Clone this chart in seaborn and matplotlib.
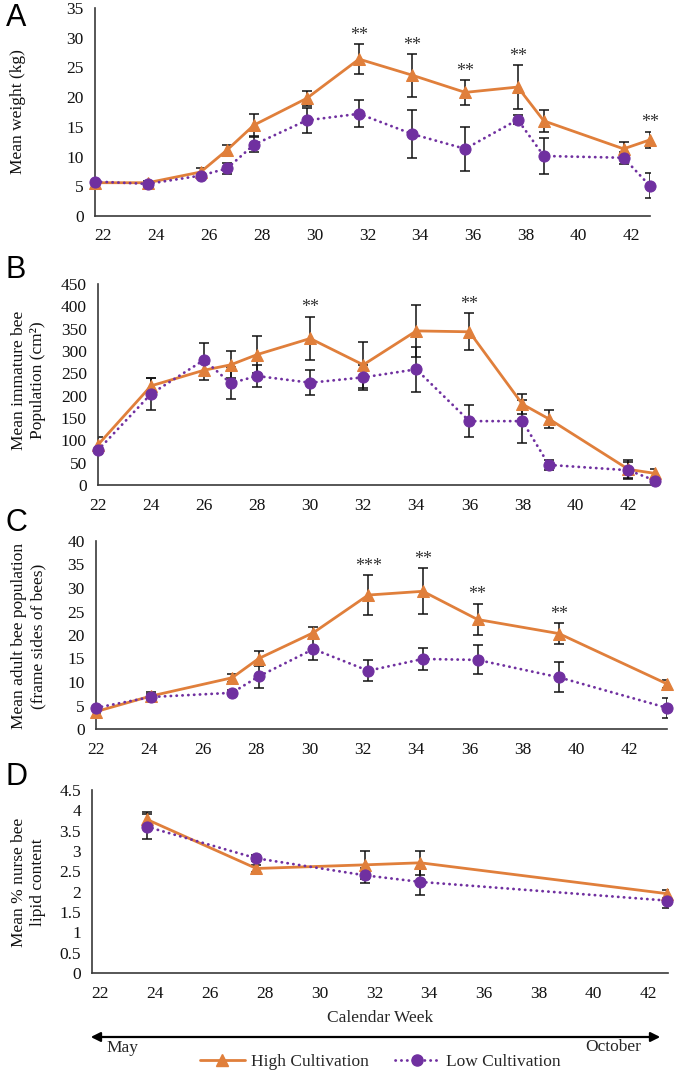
import numpy as np
import pandas as pd
import matplotlib
matplotlib.use('Agg')
import matplotlib.pyplot as plt
import seaborn as sns
from matplotlib.patches import FancyArrowPatch
from matplotlib.lines import Line2D

# ---------------- data ----------------
groups = ['High Cultivation', 'Low Cultivation']
x_ticks = [22, 24, 26, 28, 30, 32, 34, 36, 38, 40, 42]

# Panel A: mean weight (kg)
weeks_A = [21.68, 23.68, 25.68, 26.68, 27.7, 29.7, 31.68, 33.69, 35.7, 37.69, 38.68, 41.7, 42.69]
high_A = [5.6, 5.6, 7.4, 11.1, 15.3, 19.8, 26.4, 23.7, 20.8, 21.7, 16.0, 11.3, 12.8]
high_A_err = [0.3, 0.3, 0.7, 0.9, 1.8, 1.3, 2.5, 3.6, 2.1, 3.7, 1.9, 1.1, 1.4]
low_A = [5.8, 5.4, 6.8, 8.0, 12.0, 16.1, 17.2, 13.8, 11.3, 16.2, 10.1, 9.8, 5.1]
low_A_err = [0.3, 0.3, 0.4, 0.9, 1.3, 2.1, 2.3, 4.1, 3.7, 0.8, 3.0, 1.0, 2.1]
sig_A_idx = [6, 7, 8, 9, 12]
sig_A_lab = ['**', '**', '**', '**', '**']

# Panel B: immature bee population (cm2)
weeks_B = [22, 24, 26, 27, 28, 30, 32, 34, 36, 38, 39, 42, 43]
high_B = [90, 222, 257, 269, 292, 328, 269, 345, 343, 181, 148, 35, 26]
high_B_err = [18, 17, 22, 30, 42, 49, 52, 58, 41, 22, 20, 22, 10]
low_B = [78, 204, 280, 228, 244, 229, 241, 259, 143, 143, 45, 33, 10]
low_B_err = [8, 35, 37, 36, 25, 28, 28, 50, 36, 48, 12, 18, 5]
sig_B_idx = [5, 8]
sig_B_lab = ['**', '**']

# Panel C: adult bee population (frame sides of bees)
weeks_C = [22, 24.05, 27.1, 28.1, 30.15, 32.2, 34.25, 36.3, 39.35, 43.4]
high_C = [3.7, 7.0, 10.9, 15.0, 20.5, 28.5, 29.3, 23.3, 20.3, 9.6]
high_C_err = [0.4, 0.5, 0.9, 1.5, 1.3, 4.3, 4.9, 3.4, 2.3, 0.8]
low_C = [4.5, 6.8, 7.7, 11.2, 17.0, 12.4, 14.9, 14.7, 11.0, 4.5]
low_C_err = [0.4, 1.0, 0.5, 2.4, 2.4, 2.2, 2.4, 3.1, 3.2, 2.1]
sig_C_idx = [5, 6, 7, 8]
sig_C_lab = ['***', '**', '**', '**']

# Panel D: nurse bee lipid content (%)
weeks_D = [23.68, 27.69, 31.67, 33.67, 42.69]
high_D = [3.78, 2.57, 2.66, 2.71, 1.95]
high_D_err = [0.18, 0.08, 0.34, 0.30, 0.10]
low_D = [3.60, 2.82, 2.40, 2.24, 1.78]
low_D_err = [0.30, 0.07, 0.18, 0.33, 0.18]

ylabels = ['Mean weight (kg)',
           'Mean immature bee\nPopulation (cm\u00b2)',
           'Mean adult bee population\n(frame sides of bees)',
           'Mean % nurse bee\nlipid content']
letters = ['A', 'B', 'C', 'D']

# ---------------- style ----------------
sns.set_theme(style='white')
plt.rcParams['font.family'] = ['Liberation Serif', 'DejaVu Serif']

COL = {'High Cultivation': '#E07F3B', 'Low Cultivation': '#7030A0'}
MRK = {'High Cultivation': '^', 'Low Cultivation': 'o'}
DSH = {'High Cultivation': '', 'Low Cultivation': (0.1, 2.0)}

W, H = 677, 1072
fig = plt.figure(figsize=(W / 100, H / 100), dpi=100)


def rect(l, t, r, b):
    return [l / W, 1 - b / H, (r - l) / W, (b - t) / H]


def fmt_num(v):
    return ('%g' % v)


panels = [
    dict(box=(95, 8, 650, 216), weeks=weeks_A, hi=high_A, hie=high_A_err, lo=low_A, loe=low_A_err,
         ylim=(0, 35), yticks=np.arange(0, 35.1, 5), xlim=(21.68, 42.7), sig=(sig_A_idx, sig_A_lab),
         ylab_xy=(18, 112), letter_xy=(16, 18)),
    dict(box=(98, 284, 655, 485), weeks=weeks_B, hi=high_B, hie=high_B_err, lo=low_B, loe=low_B_err,
         ylim=(0, 450), yticks=np.arange(0, 451, 50), xlim=(22, 43), sig=(sig_B_idx, sig_B_lab),
         ylab_xy=(29, 380), letter_xy=(16, 270)),
    dict(box=(96, 541, 667, 729), weeks=weeks_C, hi=high_C, hie=high_C_err, lo=low_C, loe=low_C_err,
         ylim=(0, 40), yticks=np.arange(0, 40.1, 5), xlim=(22, 43.4), sig=(sig_C_idx, sig_C_lab),
         ylab_xy=(29, 636), letter_xy=(16, 523)),
    dict(box=(92, 790, 668, 973), weeks=weeks_D, hi=high_D, hie=high_D_err, lo=low_D, loe=low_D_err,
         ylim=(0, 4.5), yticks=np.arange(0, 4.51, 0.5), xlim=(21.69, 42.71), sig=([], []),
         ylab_xy=(29, 882), letter_xy=(16, 777)),
]

for i, p in enumerate(panels):
    ax = fig.add_axes(rect(*p['box']))
    df = pd.DataFrame({
        'week': list(p['weeks']) * 2,
        'value': list(p['hi']) + list(p['lo']),
        'group': [groups[0]] * len(p['weeks']) + [groups[1]] * len(p['weeks']),
    })
    # error bars underneath
    for yy, ee in ((p['hi'], p['hie']), (p['lo'], p['loe'])):
        ax.errorbar(p['weeks'], yy, yerr=ee, fmt='none', ecolor='#111111',
                    elinewidth=1.1, capsize=3.5, capthick=1.1, zorder=1)
    sns.lineplot(data=df, x='week', y='value', hue='group', style='group',
                 hue_order=groups, style_order=groups, palette=COL, markers=MRK,
                 dashes=DSH, linewidth=2.0, markersize=8, legend=False,
                 errorbar=None, sort=False, ax=ax, zorder=3)
    for ln in ax.get_lines():
        if ln.get_marker() not in ('o', '^'):
            continue
        c = ln.get_color()
        ln.set_markeredgecolor(c)
        ln.set_markerfacecolor(c)
        ln.set_clip_on(False)
        ln.set_markersize(8)
        if ln.get_marker() == 'o':
            ln.set_dash_capstyle('round')
    ax.set_xlim(*p['xlim'])
    ax.set_ylim(*p['ylim'])
    ax.set_xticks(x_ticks)
    ax.set_xticklabels([str(t) for t in x_ticks])
    ax.set_yticks(p['yticks'])
    ax.set_yticklabels([fmt_num(v) for v in p['yticks']])
    ax.tick_params(axis='both', length=0, labelsize=12.5, colors='#111111')
    ax.tick_params(axis='x', pad=9)
    ax.tick_params(axis='y', pad=8)
    ax.set_xlabel('')
    ax.set_ylabel('')
    for s in ['top', 'right']:
        ax.spines[s].set_visible(False)
    for s in ['left', 'bottom']:
        ax.spines[s].set_color('#3a3a3a')
        ax.spines[s].set_linewidth(1.2)
    ax.set_facecolor('none')
    # significance marks
    idxs, labs = p['sig']
    for k, lab in zip(idxs, labs):
        ax.annotate(lab, xy=(p['weeks'][k], p['hi'][k] + p['hie'][k]),
                    xytext=(0, 3), textcoords='offset points', ha='center',
                    va='baseline', fontsize=13, color='#333333')
    # y label & panel letter
    lx, ly = p['ylab_xy']
    fig.text(lx / W, 1 - ly / H, ylabels[i], rotation=90, ha='center', va='center',
             fontsize=12.5, linespacing=1.25, color='#111111')
    tx, ty = p['letter_xy']
    fig.text(tx / W, 1 - ty / H, letters[i], ha='center', va='center', fontsize=22,
             family=['Liberation Sans', 'DejaVu Sans'], color='black')

# x axis title
fig.text(380 / W, 1 - 1018 / H, 'Calendar Week', ha='center', va='center', fontsize=12.5)

# season arrow
arrow = FancyArrowPatch((88 / W, 1 - 1037 / H), (663 / W, 1 - 1037 / H),
                        transform=fig.transFigure, arrowstyle='<|-|>',
                        mutation_scale=14, lw=1.6, color='black')
fig.add_artist(arrow)
fig.text(106 / W, 1 - 1048 / H, 'May', ha='left', va='center', fontsize=12.5)
fig.text(641 / W, 1 - 1047 / H, 'October', ha='right', va='center', fontsize=12.5)

# legend
handles = [Line2D([], [], color=COL[g], marker=MRK[g], markersize=8,
                  linestyle='-' if g == groups[0] else (0, (0.1, 2.0)),
                  dash_capstyle='round', linewidth=2.0) for g in groups]
fig.legend(handles, groups, loc='center', bbox_to_anchor=(380 / W, 1 - 1062 / H),
           ncol=2, frameon=False, fontsize=12.5, handlelength=2.6,
           handletextpad=0.35, columnspacing=1.5, borderaxespad=0, borderpad=0)

fig.savefig('out.png', dpi=100)
